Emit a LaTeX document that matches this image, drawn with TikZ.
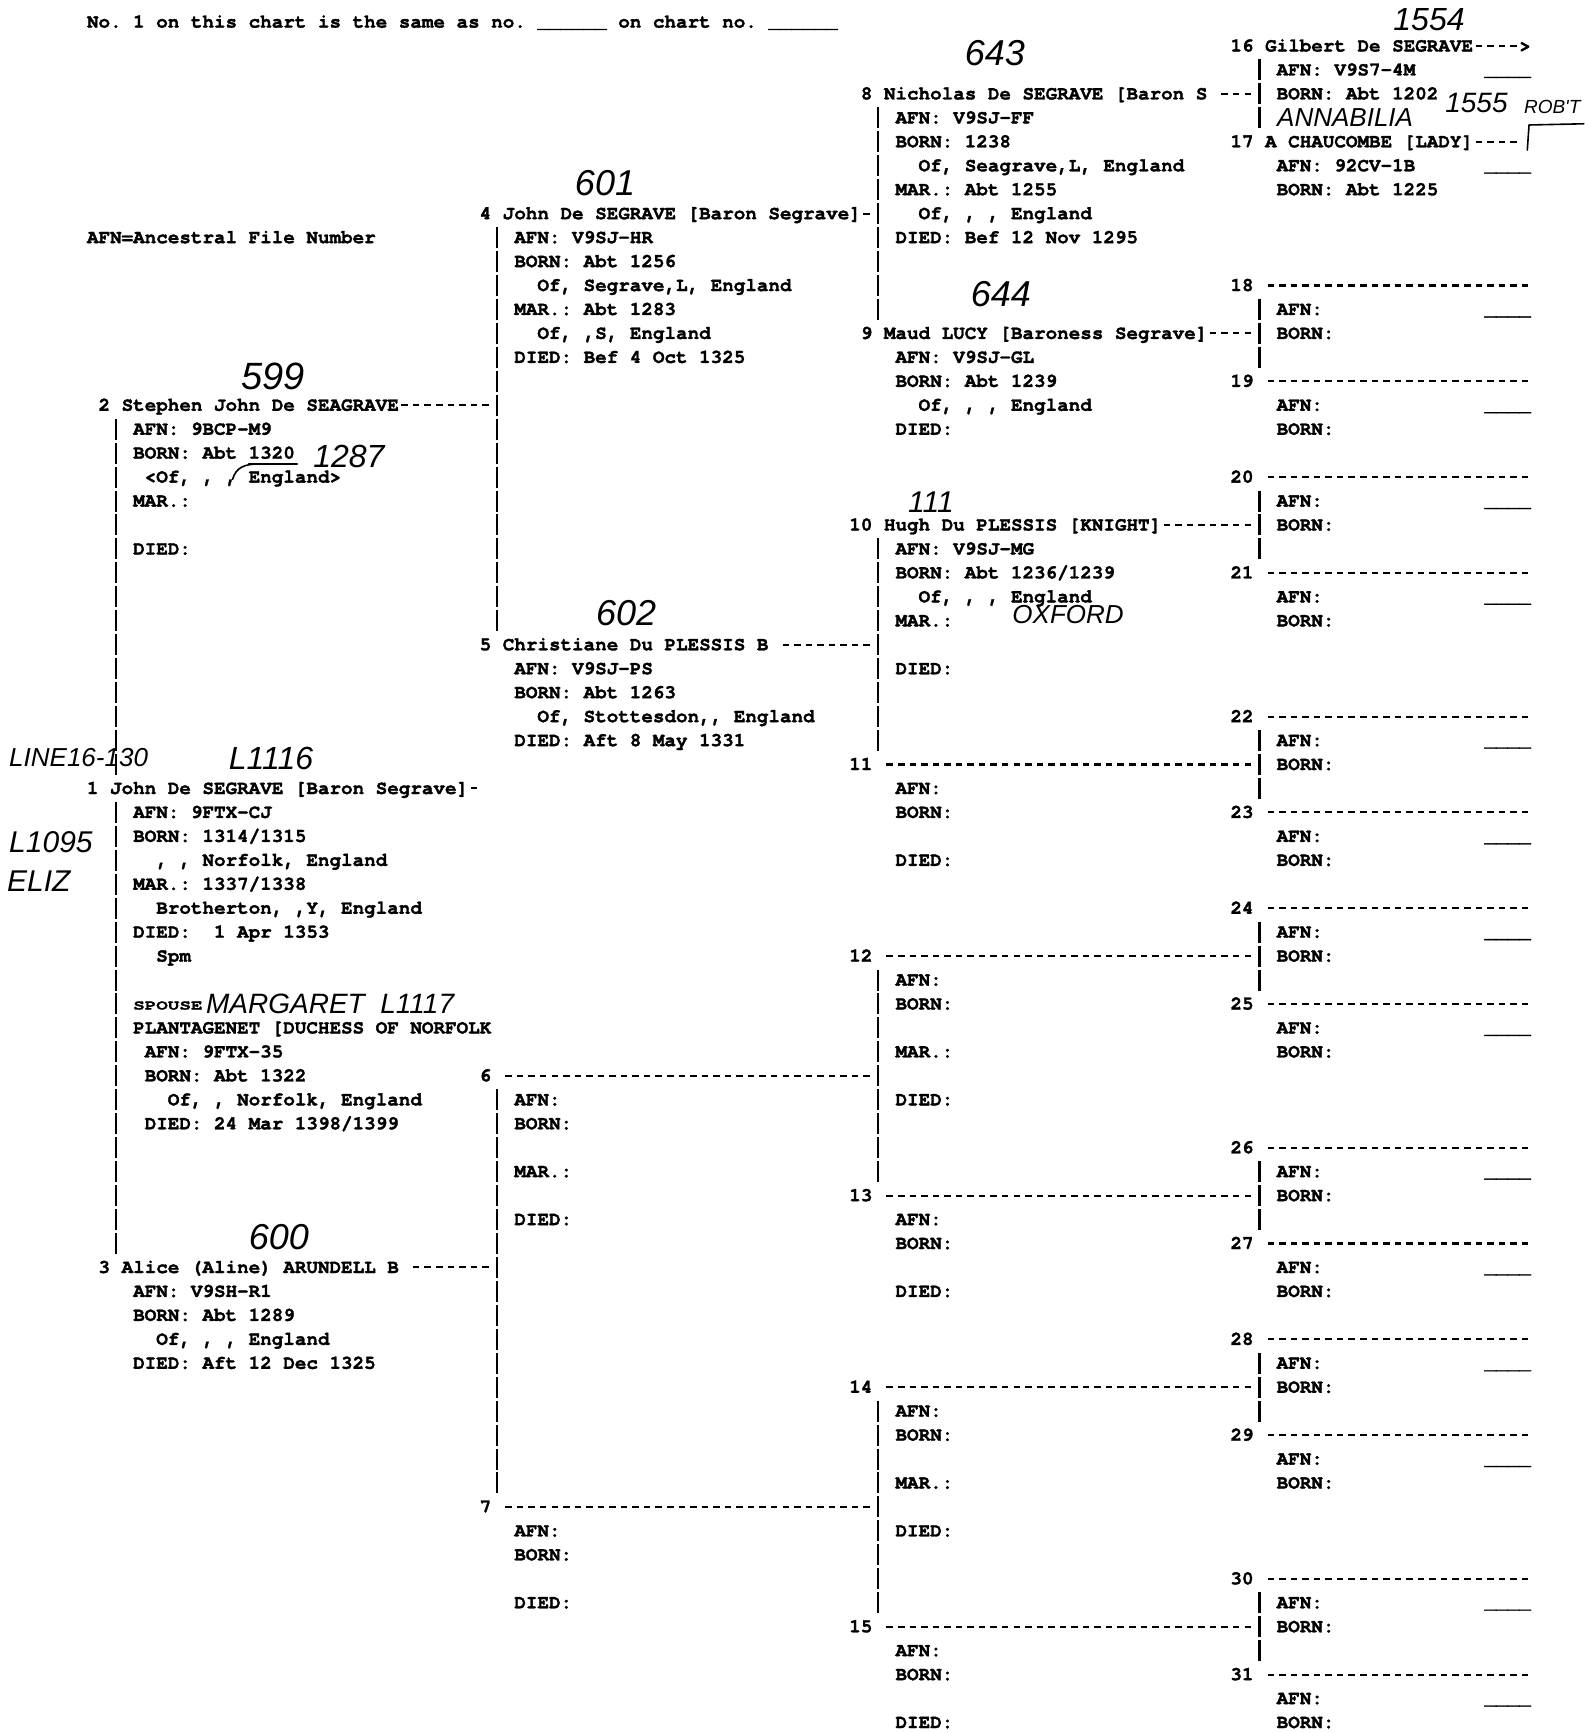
\documentclass[tikz,border=0pt]{standalone}
\usepackage{fontspec}
\usepackage{graphicx}
\newfontfamily\cursorfont{texgyrecursor-bold.otf}[FakeBold=1.6]
\newfontfamily\handfont{Liberation Sans}
\frenchspacing
\newcommand{\colw}{11.55pt}
\tikzset{
  typed/.style={font=\cursorfont\fontsize{19.25}{23.95}\selectfont, inner sep=0pt, outer sep=0pt,
    anchor=west, text height=17.57pt, text depth=6.38pt},
  bar/.style={line width=2.4pt, dash pattern=on 21pt off 2.95pt, dash phase=22.475pt},
  dashline/.style={line width=2.1pt, dash pattern=on 6.5pt off 5.05pt, dash phase=9.025pt},
  hand/.style={font=\handfont\itshape\fontsize{#1}{#1}\selectfont, inner sep=0pt},
  pen/.style={line width=1.6pt, line cap=round, line join=round},
}
\newcommand{\info}[4]{\foreach \t [count=\k] in {#4} \node[typed] (i#1-\k) at (#2,#3+\k) {\t};}

\begin{document}
\begin{tikzpicture}[x=11.55pt, y=-23.95pt]
\useasboundingbox[fill=white] (-7.532,-0.9186) rectangle (129.61,71.44);
\node[typed] (head) at (0,0) {No. 1 on this chart is the same as no. \_\_\_\_\_\_ on chart no. \_\_\_\_\_\_};
\node[typed] (key) at (0,9) {AFN=Ancestral File Number};
\coordinate (rim) at (125,0);

% generation 1
\node[typed] (n1) at (0,32) {1};
\node[typed] (p1) at (2,32) {John De SEGRAVE [Baron Segrave]};
\info{1}{4}{32}{{AFN: 9FTX-CJ},{BORN: 1314/1315},{~~, , Norfolk, England},{MAR.: 1337/1338},
  {~~Brotherton, ,Y, England},{DIED:~~1 Apr 1353},{~~Spm},{},{\scalebox{1}[.72]{SPOUSE}},
  {PLANTAGENET [DUCHESS OF NORFOLK},{~AFN: 9FTX-35},{~BORN: Abt 1322},
  {~~~Of, , Norfolk, England},{~DIED: 24 Mar 1398/1399}}

% generation 2
\node[typed] (n2) at (1,16) {2};
\node[typed] (p2) at (3,16) {Stephen John De SEAGRAVE};
\info{2}{4}{16}{{AFN: 9BCP-M9},{BORN: Abt 1320},{~<Of, , , England>},{MAR.:},{},{DIED:}}
\node[typed] (n3) at (1,52) {3};
\node[typed] (p3) at (3,52) {Alice (Aline) ARUNDELL B};
\info{3}{4}{52}{{AFN: V9SH-R1},{BORN: Abt 1289},{~~Of, , , England},{DIED: Aft 12 Dec 1325}}

% generation 3
\node[typed] (n4) at (34,8) {4};
\node[typed] (p4) at (36,8) {John De SEGRAVE [Baron Segrave]};
\info{4}{37}{8}{{AFN: V9SJ-HR},{BORN: Abt 1256},{~~Of, Segrave,L, England},{MAR.: Abt 1283},
  {~~Of, ,S, England},{DIED: Bef 4 Oct 1325}}
\node[typed] (n5) at (34,26) {5};
\node[typed] (p5) at (36,26) {Christiane Du PLESSIS B};
\info{5}{37}{26}{{AFN: V9SJ-PS},{BORN: Abt 1263},{~~Of, Stottesdon,, England},{DIED: Aft 8 May 1331}}
\node[typed] (n6) at (34,44) {6};
\info{6}{37}{44}{AFN:,BORN:,{},MAR.:,{},DIED:}
\node[typed] (n7) at (34,62) {7};
\info{7}{37}{62}{AFN:,BORN:,{},DIED:}

% generation 4
\node[typed] (n8) at (67,3) {8};
\node[typed] (p8) at (69,3) {Nicholas De SEGRAVE [Baron S};
\info{8}{70}{3}{{AFN: V9SJ-FF},{BORN: 1238},{~~Of, Seagrave,L, England},{MAR.: Abt 1255},
  {~~Of, , , England},{DIED: Bef 12 Nov 1295}}
\node[typed] (n9) at (67,13) {9};
\node[typed] (p9) at (69,13) {Maud LUCY [Baroness Segrave]};
\info{9}{70}{13}{{AFN: V9SJ-GL},{BORN: Abt 1239},{~~Of, , , England},{DIED:}}
\node[typed] (n10) at (66,21) {10};
\node[typed] (p10) at (69,21) {Hugh Du PLESSIS [KNIGHT]};
\info{10}{70}{21}{{AFN: V9SJ-MG},{BORN: Abt 1236/1239},{~~Of, , , England},{MAR.:},{},{DIED:}}
\foreach \n/\r in {12/39,14/57} {
  \node[typed] (n\n) at (66,\r) {\n};
  \info{\n}{70}{\r}{AFN:,BORN:,{},MAR.:,{},DIED:}
}
\foreach \n/\r in {11/31,13/49,15/67} {
  \node[typed] (n\n) at (66,\r) {\n};
  \info{\n}{70}{\r}{AFN:,BORN:,{},DIED:}
}

% generation 5
\node[typed] (n16) at (99,1) {16};
\node[typed] (p16) at (102,1) {Gilbert De SEGRAVE};
\node[typed] (tip) at (124,1) {>};
\info{16}{103}{1}{{AFN: V9S7-4M},{BORN: Abt 1202}}
\node[typed] (n17) at (99,5) {17};
\node[typed] (p17) at (102,5) {A CHAUCOMBE [LADY]};
\info{17}{103}{5}{{AFN: 92CV-1B},{BORN: Abt 1225}}
\foreach \n/\r in {18/11,19/15,20/19,21/23,22/29,23/33,24/37,25/41,26/47,27/51,28/55,29/59,30/65,31/69} {
  \node[typed] (n\n) at (99,\r) {\n};
  \info{\n}{103}{\r}{AFN:,BORN:}
  \draw[dashline] ([xshift=\colw]n\n.east) -- (n\n.east -| rim);
}
\foreach \n/\r in {16/1,17/5,18/11,19/15,20/19,21/23,22/29,23/33,24/37,25/41,26/47,27/51,28/55,29/59,30/65,31/69}
  \node[typed] (u\n) at (121,\r+1) {\_\_\_\_};

% child to parents
\draw[dashline] (p1.east) -- ++(1,0);
\draw[dashline] (p2.east) -- (p2.east -| n4.east);
\draw[dashline] ([xshift=\colw]p3.east) -- (p3.east -| n6.east);
\draw[dashline] (p4.east) -- (p4.east -| n8.east);
\draw[dashline] ([xshift=\colw]p5.east) -- (p5.east -| n10.east);
\draw[dashline] ([xshift=\colw]n6.east) -- (n6.east -| n12.east);
\draw[dashline] ([xshift=\colw]n7.east) -- (n7.east -| n14.east);
\draw[dashline] ([xshift=\colw]p8.east) -- (p8.east -| n16.east);
\draw[dashline] (p9.east) -- (p9.east -| n18.east);
\draw[dashline] (p10.east) -- (p10.east -| n20.east);
\foreach \c/\f in {11/22,12/24,13/26,14/28,15/30}
  \draw[dashline] ([xshift=\colw]n\c.east) -- (n\c.east -| n\f.east);
\draw[dashline] (p16.east) -- (tip.west);
\draw[dashline] (p17.east) -- (p17.east -| tip.west);

% father to mother
\coordinate (k2) at ([xshift=.5*\colw]n2.east);
\draw[bar] (k2 |- n2.south) -- (k2 |- n1.north);
\draw[bar] (k2 |- n1.south) -- (k2 |- n3.north);
\foreach \f/\m in {4/5,6/7,8/9,10/11,12/13,14/15,16/17,18/19,20/21,22/23,24/25,26/27,28/29,30/31}
  \draw[bar] ([xshift=.5*\colw]n\f.south east) -- ([xshift=.5*\colw]n\m.north east);

% pencil notes
\node[hand=32] (w1554) at (116.19,-0.1) {1554};
\node[hand=36] (w643) at (78.61,1.29) {643};
\node[hand=28] (w1555) at (120.3,3.38) {1555};
\node[hand=19, anchor=west] (wrob) at (124.4,3.55) {ROB'T};
\node[hand=26, anchor=west] (wanna) at (103.03,4.0) {ANNABILIA};
\node[hand=36] (w601) at (44.85,6.72) {601};
\node[hand=36] (w644) at (79.13,11.36) {644};
\node[hand=38] (w599) at (16.1,14.8) {599};
\node[hand=32] (w1287) at (22.68,18.15) {1287};
\node[hand=30] (w111) at (73.07,20.04) {111};
\node[hand=26] (wox) at (84.94,24.75) {OXFORD};
\node[hand=36] (w602) at (46.67,24.7) {602};
\node[hand=26, anchor=west] (wline) at (-6.75,30.73) {LINE16-130};
\node[hand=32] (w1116) at (15.93,30.75) {L1116};
\node[hand=30, anchor=west] (w1095) at (-6.75,34.24) {L1095};
\node[hand=30, anchor=west] (weliz) at (-6.93,35.87) {ELIZ};
\node[hand=28, anchor=west] (wmarg) at (10.3,41.0) {MARGARET\ \ L1117};
\node[hand=36] (w600) at (16.62,50.75) {600};
\draw[pen] (14,18.45) -- (18.2,18.45);
\draw[pen] (12.6,19.1) .. controls (12.9,18.6) and (13.6,18.45) .. (15,18.45);
\draw[pen] (124.7,5.35) -- (124.85,4.3) -- (129.6,4.25);
\end{tikzpicture}
\end{document}
